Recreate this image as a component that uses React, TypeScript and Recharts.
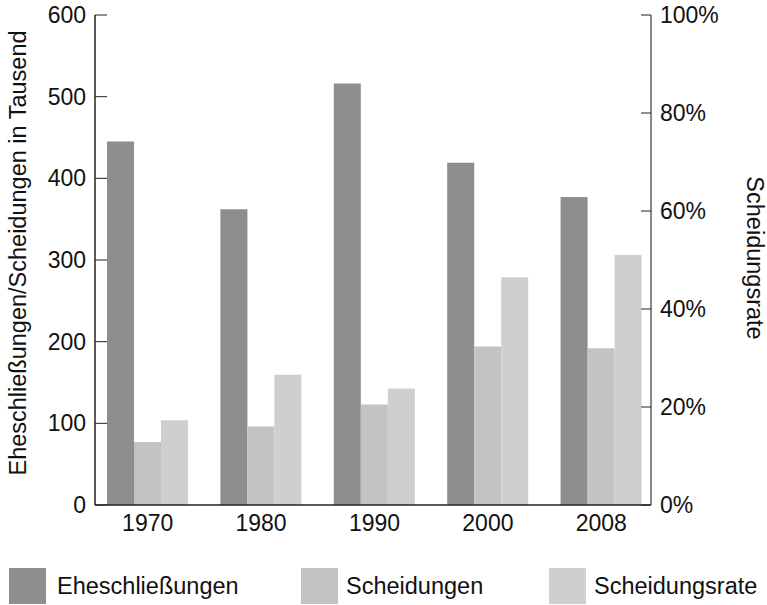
import React from 'react';
import { ComposedChart, Bar, XAxis, YAxis, Legend } from 'recharts';

const years = ['1970', '1980', '1990', '2000', '2008'];
const marriages = [445, 362, 516, 419, 377];
const divorces = [77, 96, 123, 194, 192];
const divorceRate = [17.3, 26.6, 23.8, 46.5, 51.0];

const leftTicks = [0, 100, 200, 300, 400, 500, 600];
const rightTicks = [0, 20, 40, 60, 80, 100];

const COLORS = { marriages: '#8e8e8e', divorces: '#c3c3c3', rate: '#cfcfcf' };
const FONT = '"Liberation Sans", Arial, sans-serif';

const data = years.map((year, i) => ({
  year,
  marriages: marriages[i],
  divorces: divorces[i],
  rate: divorceRate[i],
}));

const legendLefts = [9, 301, 549];

const renderLegend = (props: any) => {
  const { payload } = props;
  return (
    <div style={{ position: 'relative', width: 767, height: 40, fontFamily: FONT }}>
      {payload.map((entry: any, i: number) => (
        <div key={entry.value} style={{ position: 'absolute', left: legendLefts[i], top: 3, display: 'flex', alignItems: 'center' }}>
          <div style={{ width: 37, height: 36, background: entry.color }} />
          <span style={{ marginLeft: i === 0 ? 11 : 8, fontSize: 23.5, color: '#111' }}>{entry.value}</span>
        </div>
      ))}
    </div>
  );
};

const tickStyle = { fontSize: 23, fill: '#111', fontFamily: FONT };

// rotated axis title at a fixed centre
const AxisTitle = ({ x, y, angle, text }: { x: number; y: number; angle: number; text: string }) => (
  <text
    x={x}
    y={y}
    transform={`rotate(${angle}, ${x}, ${y})`}
    textAnchor="middle"
    dominantBaseline="central"
    fontSize={23.5}
    fill="#111"
    fontFamily={FONT}
  >
    {text}
  </text>
);

export default function App() {
  return (
    <div style={{ position: 'absolute', left: 0, top: 0, width: 767, height: 605, background: '#fff' }}>
      <ComposedChart
        width={767}
        height={605}
        data={data}
        margin={{ top: 15, right: 0, bottom: 0, left: 0 }}
        barGap={0}
        barCategoryGap={16}
      >
        <XAxis
          dataKey="year"
          tick={tickStyle}
          tickLine={false}
          tickSize={0}
          tickMargin={10}
          height={60}
          padding={{ left: -4, right: -7 }}
          axisLine={{ stroke: '#222', strokeWidth: 1.5 }}
        />
        <YAxis
          yAxisId="left"
          width={95}
          domain={[0, 600]}
          ticks={leftTicks}
          tick={tickStyle}
          tickSize={-12}
          tickMargin={21}
          tickLine={{ stroke: '#222' }}
          axisLine={{ stroke: '#222', strokeWidth: 1.5 }}
          label={() => <AxisTitle x={18} y={253} angle={-90} text="Eheschließungen/Scheidungen in Tausend" />}
        />
        <YAxis
          yAxisId="right"
          orientation="right"
          width={116}
          domain={[0, 100]}
          ticks={rightTicks}
          tickFormatter={(v) => `${v}%`}
          tick={tickStyle}
          tickSize={-10}
          tickMargin={19}
          tickLine={{ stroke: '#222' }}
          axisLine={{ stroke: '#888', strokeWidth: 2 }}
          label={() => <AxisTitle x={755} y={258} angle={90} text="Scheidungsrate" />}
        />
        <Legend verticalAlign="bottom" height={40} content={renderLegend} />
        <Bar yAxisId="left" dataKey="marriages" name="Eheschließungen" fill={COLORS.marriages} isAnimationActive={false} />
        <Bar yAxisId="left" dataKey="divorces" name="Scheidungen" fill={COLORS.divorces} isAnimationActive={false} />
        <Bar yAxisId="right" dataKey="rate" name="Scheidungsrate" fill={COLORS.rate} isAnimationActive={false} />
      </ComposedChart>
    </div>
  );
}
